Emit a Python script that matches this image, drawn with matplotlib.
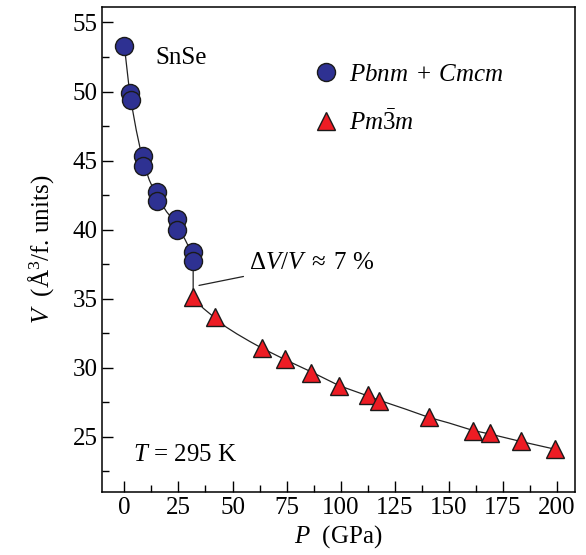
import matplotlib
matplotlib.use("Agg")
import matplotlib.pyplot as plt
from matplotlib.ticker import MultipleLocator

plt.rcParams["font.family"] = ["Liberation Serif", "DejaVu Serif"]
plt.rcParams["mathtext.fontset"] = "custom"
plt.rcParams["mathtext.rm"] = "Liberation Serif"
plt.rcParams["mathtext.it"] = "Liberation Serif:italic"
plt.rcParams["font.size"] = 18

# Pbnm + Cmcm (low-pressure phases)
p_low = [0.0, 2.6, 2.9, 8.4, 8.7, 14.9, 15.1, 24.1, 24.3, 31.6, 31.8]
v_low = [53.3, 49.9, 49.4, 45.3, 44.6, 42.7, 42.05, 40.8, 40.0, 38.4, 37.7]

# Pm-3m (high-pressure phase)
p_high = [31.9, 41.9, 63.8, 74.1, 86.4, 99.3, 112.7, 117.7,
          140.8, 161.3, 169.0, 183.5, 199.0]
v_high = [35.1, 33.65, 31.4, 30.65, 29.65, 28.65, 28.0, 27.6,
          26.4, 25.45, 25.25, 24.7, 24.1]

# EOS fit curves
fit_p = [0.0, 2.6, 5.5, 8.5, 11.5, 15.0, 19.5, 24.2, 28.0, 31.8,
         31.8, 36.5, 41.9, 47.0, 52.0, 58.0, 63.8, 74.1, 86.4, 99.3, 112.7,
         117.7, 130.0, 140.8, 150.0, 161.3, 169.0, 183.5, 199.0]
fit_v = [53.3, 49.7, 47.2, 45.0, 43.6, 42.4, 41.3, 40.4, 39.3, 38.1,
         35.1, 34.3, 33.6, 32.95, 32.45, 31.9, 31.4, 30.6, 29.7, 28.7, 27.95,
         27.65, 27.0, 26.4, 26.0, 25.45, 25.2, 24.65, 24.1]

fig = plt.figure(figsize=(5.86, 5.55), dpi=100)
ax = fig.add_axes([102.3 / 586, 1 - 492 / 555, (575 - 102.3) / 586, (492 - 7.3) / 555])

ax.plot(fit_p, fit_v, color="#222222", lw=0.9, zorder=1)
ax.plot(p_low, v_low, "o", ms=13, mfc="#2E3192", mec="#1a1a1a", mew=1.0,
        label=r"$Pbnm\;+\;Cmcm$", zorder=3)
ax.plot(p_high, v_high, "^", ms=13, mfc="#ED1C24", mec="#1a1a1a", mew=1.0,
        label=r"$Pm\bar{3}m$", zorder=3)

ax.set_xlim(-10.2, 208.3)
ax.set_ylim(21.0, 56.1)
ax.xaxis.set_major_locator(MultipleLocator(25))
ax.xaxis.set_minor_locator(MultipleLocator(12.5))
ax.yaxis.set_major_locator(MultipleLocator(5))
ax.yaxis.set_minor_locator(MultipleLocator(2.5))
ax.tick_params(which="both", direction="in", top=False, right=False, width=1.0)
ax.tick_params(which="major", length=8)
ax.tick_params(which="minor", length=5)
for s in ax.spines.values():
    s.set_linewidth(1.1)

ax.set_xlabel(r"$P$  (GPa)", labelpad=3)
ax.set_ylabel(r"$V$  (Å$^3$/f. units)", labelpad=12)

ax.text(14.2, 52.4, "SnSe", va="center", ha="left")
ax.text(4.0, 23.65, r"$T$ = 295 K", va="center", ha="left")
ax.annotate(r"$\Delta V/V\;\approx\;7$ %", xy=(34.5, 35.96), xytext=(57.6, 37.6),
            va="center", ha="left",
            arrowprops=dict(arrowstyle="-", color="#222222", lw=0.9,
                            shrinkA=2, shrinkB=0))

ax.legend(loc="upper left", bbox_to_anchor=(0.426, 0.905), frameon=False,
          numpoints=1, handlelength=1.0, handletextpad=0.4, labelspacing=0.95,
          borderaxespad=0)

fig.savefig("out.png", dpi=100)
